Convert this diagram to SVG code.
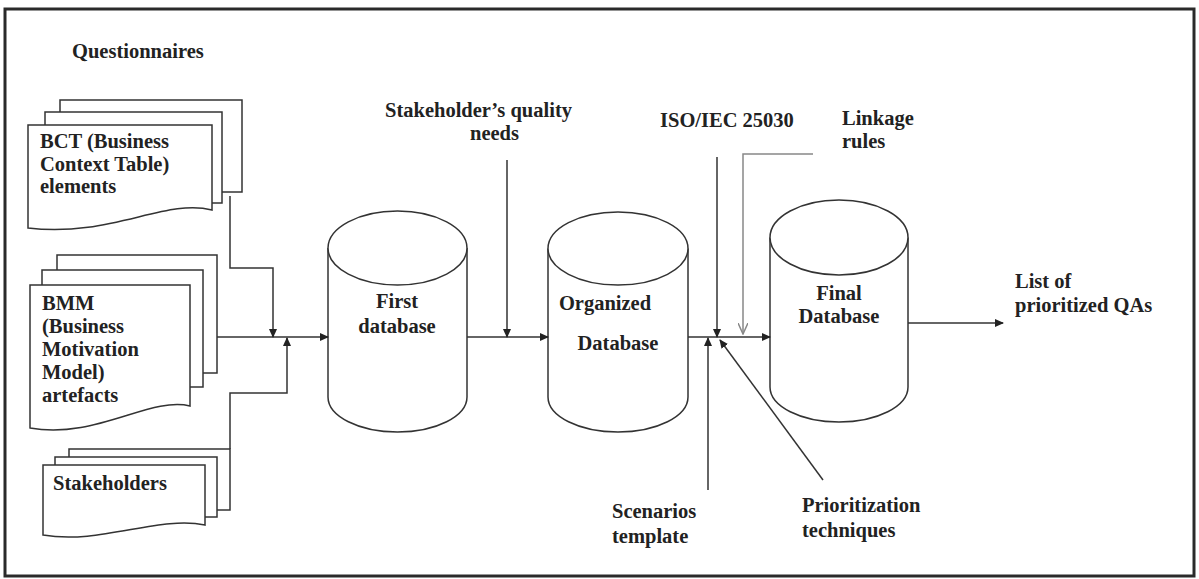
<svg xmlns="http://www.w3.org/2000/svg" width="1199" height="579" viewBox="0 0 1199 579">
<style>
.t{font-family:"Liberation Serif","Times New Roman",serif;font-weight:bold;font-size:20.5px;fill:#222}
.c{text-anchor:middle}
.s{fill:#fff;stroke:#333;stroke-width:1.5}
.l{fill:none;stroke:#333;stroke-width:1.5}
.g{fill:none;stroke:#888;stroke-width:1.5}
</style>
<defs>
<marker id="a" markerWidth="9" markerHeight="8" refX="8" refY="4" orient="auto" markerUnits="userSpaceOnUse"><path d="M0,0 L9,4 L0,8 Z" fill="#222"/></marker>
<marker id="o" markerWidth="12" markerHeight="10" refX="11" refY="5" orient="auto" markerUnits="userSpaceOnUse"><path d="M0,0 L11,5 L0,10" fill="none" stroke="#888" stroke-width="1.5"/></marker>
</defs>
<rect x="5" y="9" width="1189" height="567" fill="#fff" stroke="#2a2a2a" stroke-width="3"/>
<text class="t" x="72" y="58">Questionnaires</text>
<g id="bct">
<rect class="s" x="60" y="100" width="182" height="92"/>
<rect class="s" x="45" y="112" width="177" height="91"/>
<path class="s" d="M28,125 H212 V210 C165,198 110,238 28,228 Z"/>
<text class="t" x="40" y="148">BCT (Business</text>
<text class="t" x="40" y="171">Context Table)</text>
<text class="t" x="40" y="193">elements</text>
</g>
<g id="bmm">
<rect class="s" x="57" y="255" width="160" height="118"/>
<rect class="s" x="42" y="270" width="161" height="117"/>
<path class="s" d="M30,285 H190 V406 C150,396 95,440 30,428 Z"/>
<text class="t" x="42" y="310">BMM</text>
<text class="t" x="42" y="333">(Business</text>
<text class="t" x="42" y="356">Motivation</text>
<text class="t" x="42" y="379">Model)</text>
<text class="t" x="42" y="402">artefacts</text>
</g>
<g id="stakeholders">
<rect class="s" x="69" y="449" width="161" height="61"/>
<rect class="s" x="55" y="457" width="162" height="60"/>
<path class="s" d="M43,465 H205 V525 C160,515 100,545 43,535 Z"/>
<text class="t" x="53" y="490">Stakeholders</text>
</g>
<g id="first-db">
<path class="s" d="M328,248 V397 A69.5,35 0 0 0 467,397 V248"/>
<ellipse class="s" cx="397.5" cy="248" rx="69.5" ry="37"/>
<text class="t c" x="397" y="308">First</text>
<text class="t c" x="397" y="333">database</text>
</g>
<g id="organized-db">
<path class="s" d="M548,248.5 V397 A70,35 0 0 0 688,397 V248.5"/>
<ellipse class="s" cx="618" cy="248.5" rx="70" ry="36.5"/>
<text class="t c" x="605" y="310">Organized</text>
<text class="t c" x="618" y="350">Database</text>
</g>
<g id="final-db">
<path class="s" d="M770,237.5 V387 A69,35 0 0 0 908,387 V237.5"/>
<ellipse class="s" cx="839" cy="237.5" rx="69" ry="37.5"/>
<text class="t c" x="839" y="300">Final</text>
<text class="t c" x="839" y="323">Database</text>
</g>
<g id="labels">
<text class="t" x="385" y="117">Stakeholder’s quality</text>
<text class="t" x="470" y="140">needs</text>
<text class="t" x="660" y="127">ISO/IEC 25030</text>
<text class="t" x="842" y="125">Linkage</text>
<text class="t" x="842" y="148">rules</text>
<text class="t" x="612" y="518">Scenarios</text>
<text class="t" x="612" y="543">template</text>
<text class="t" x="802" y="512">Prioritization</text>
<text class="t" x="802" y="537">techniques</text>
<text class="t" x="1015" y="288">List of</text>
<text class="t" x="1015" y="312">prioritized QAs</text>
</g>
<g id="connectors">
<path class="l" d="M217,337 H328" marker-end="url(#a)"/>
<path class="l" d="M230,196 V268 H273 V337" marker-end="url(#a)"/>
<path class="l" d="M230,449 V393 H287 V338" marker-end="url(#a)"/>
<path class="l" d="M467,337 H548" marker-end="url(#a)"/>
<path class="l" d="M507,160 V337" marker-end="url(#a)"/>
<path class="l" d="M688,337 H770" marker-end="url(#a)"/>
<path class="l" d="M717,157 V337" marker-end="url(#a)"/>
<path class="g" d="M813,154 H743 V334" marker-end="url(#o)"/>
<path class="l" d="M708,490 V338" marker-end="url(#a)"/>
<path class="l" d="M823,480 L720,340" marker-end="url(#a)"/>
<path class="l" d="M908,323 H1003" marker-end="url(#a)"/>
</g>
</svg>
